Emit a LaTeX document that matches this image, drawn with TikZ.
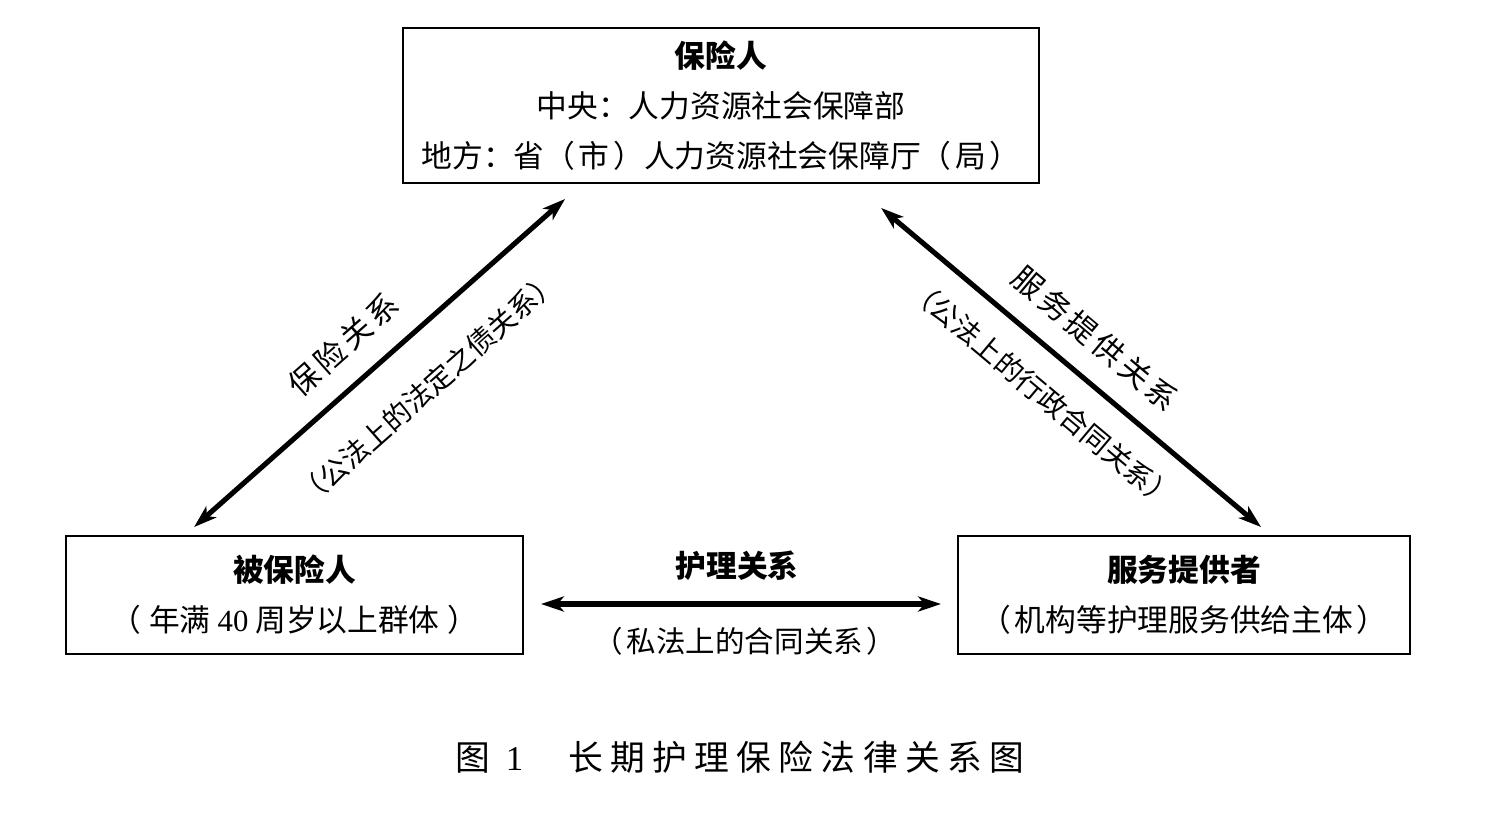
\documentclass[tikz,border=0pt]{standalone}
\usepackage{fontspec}
\setmainfont{Noto Sans CJK SC}
\newfontfamily\latinfont{Liberation Serif}
\newfontfamily\spacedfont{Noto Sans CJK SC}[LetterSpace=13]
\newfontfamily\captionfont{Noto Sans CJK SC}[LetterSpace=21]
\newcommand{\pgap}{\hspace{0.12em}}
\usepackage{tikz}
\usetikzlibrary{arrows.meta}
\usetikzlibrary{calc}

\begin{document}
\begin{tikzpicture}[x=0.02cm, y=-0.02cm,
    party/.style={draw, line width=1.1pt, align=center, font=\fontsize{17.5}{28.4}\selectfont},
    rel/.style={{Stealth[length=13pt,width=8.5pt,inset=3.5pt]}-{Stealth[length=13pt,width=8.5pt,inset=3.5pt]}, line width=2.9pt},
    kind/.style={inner sep=0pt, sloped, font=\fontsize{17.5}{20}\spacedfont},
    note/.style={inner sep=0pt, sloped, font=\fontsize{16}{20}\selectfont}]
     \useasboundingbox (0,0) rectangle (1492,815);
     %nodes
     \node[party, minimum width=12.72cm, minimum height=3.1cm] (insurer) at (721,105.5)
        {{\bfseries 保险人}\\ 中央：人力资源社会保障部\\ 地方：省（\pgap 市\pgap）人力资源社会保障厅（\pgap 局\pgap）};
     \node[party, minimum width=9.14cm, minimum height=2.36cm] (insured) at (294.5,595)
        {{\bfseries 被保险人}\\ （\hspace{0.25em}年满 {\latinfont 40} 周岁以上群体\hspace{0.25em}）};
     \node[party, minimum width=9.04cm, minimum height=2.36cm] (provider) at (1184,595)
        {{\bfseries 服务提供者}\\ （\pgap 机构等护理服务供给主体\pgap）};

     %arrow ends
     \coordinate (insured-up) at ($(insured.north west)+(129,-8)$);
     \coordinate (insurer-left) at ($(insurer.south west)+(163,15)$);
     \coordinate (insurer-right) at ($(insurer.south west)+(479,24)$);
     \coordinate (provider-up) at ($(provider.north west)+(304,-8)$);
     \coordinate (insured-right) at ($(insured.east)+(17,9)$);
     \coordinate (provider-left) at ($(provider.west)+(-16,9)$);

    \draw[rel] (insured-up) -- node[kind, pos=0.47, above=12pt] {保险关系}
        node[note, pos=0.54, below=20pt] {（公法上的法定之债关系）} (insurer-left);
    \draw[rel] (insurer-right) -- node[kind, pos=0.5, above=12pt] {服务提供关系}
        node[note, pos=0.49, below=13pt] {（公法上的行政合同关系）} (provider-up);
    \draw[rel] (insured-right) -- node[inner sep=0pt, pos=0.49, above=12pt, font=\fontsize{17.5}{20}\bfseries] {护理关系}
        node[inner sep=0pt, pos=0.51, below=12pt, font=\fontsize{16.8}{20}\selectfont] {（\pgap 私法上的合同关系\pgap）} (provider-left);

     \node[font=\fontsize{19.8}{24}\captionfont] (caption) at (740,757) {图 {\latinfont 1}\hspace{1.3em}长期护理保险法律关系图};
\end{tikzpicture}
\end{document}
